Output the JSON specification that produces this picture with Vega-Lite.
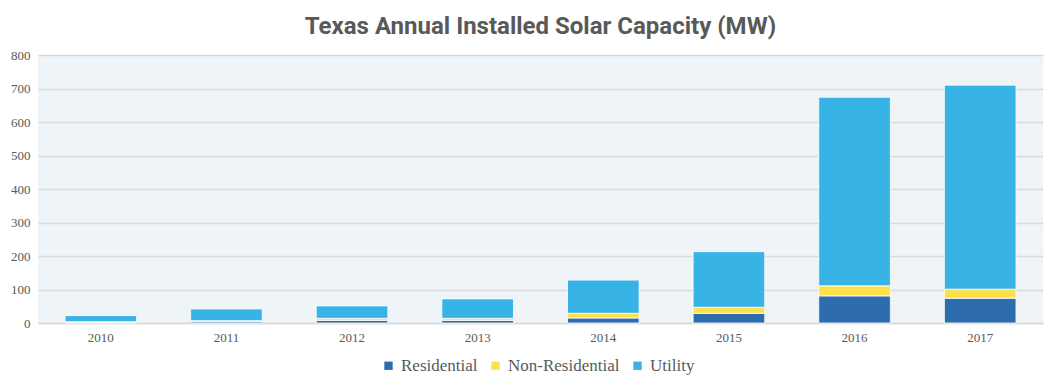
{
  "$schema": "https://vega.github.io/schema/vega-lite/v6.json",
  "autosize": {"type": "none"},
  "width": 1005,
  "height": 268,
  "padding": {"left": 38, "right": 16, "top": 55, "bottom": 64},
  "background": "white",
  "title": {
    "text": "Texas Annual Installed Solar Capacity (MW)",
    "font": "Roboto",
    "fontSize": 24,
    "fontWeight": "bold",
    "color": "#595959",
    "anchor": "middle",
    "offset": 10
  },
  "data": {
    "values": [
      {"year": "2010", "type": "Residential", "order": 1, "mw": 2},
      {"year": "2010", "type": "Non-Residential", "order": 2, "mw": 2},
      {"year": "2010", "type": "Utility", "order": 3, "mw": 18},
      {"year": "2011", "type": "Residential", "order": 1, "mw": 4},
      {"year": "2011", "type": "Non-Residential", "order": 2, "mw": 3},
      {"year": "2011", "type": "Utility", "order": 3, "mw": 35},
      {"year": "2012", "type": "Residential", "order": 1, "mw": 8},
      {"year": "2012", "type": "Non-Residential", "order": 2, "mw": 6},
      {"year": "2012", "type": "Utility", "order": 3, "mw": 37},
      {"year": "2013", "type": "Residential", "order": 1, "mw": 8},
      {"year": "2013", "type": "Non-Residential", "order": 2, "mw": 6},
      {"year": "2013", "type": "Utility", "order": 3, "mw": 58},
      {"year": "2014", "type": "Residential", "order": 1, "mw": 15},
      {"year": "2014", "type": "Non-Residential", "order": 2, "mw": 14},
      {"year": "2014", "type": "Utility", "order": 3, "mw": 99},
      {"year": "2015", "type": "Residential", "order": 1, "mw": 29},
      {"year": "2015", "type": "Non-Residential", "order": 2, "mw": 18},
      {"year": "2015", "type": "Utility", "order": 3, "mw": 166},
      {"year": "2016", "type": "Residential", "order": 1, "mw": 81},
      {"year": "2016", "type": "Non-Residential", "order": 2, "mw": 30},
      {"year": "2016", "type": "Utility", "order": 3, "mw": 563},
      {"year": "2017", "type": "Residential", "order": 1, "mw": 74},
      {"year": "2017", "type": "Non-Residential", "order": 2, "mw": 27},
      {"year": "2017", "type": "Utility", "order": 3, "mw": 609}
    ]
  },
  "mark": {"type": "bar", "stroke": "white", "strokeWidth": 0.8},
  "encoding": {
    "x": {
      "field": "year",
      "type": "nominal",
      "title": null,
      "scale": {"paddingInner": 0.43, "paddingOuter": 0.215},
      "axis": {
        "labelAngle": 0,
        "labelFont": "Liberation Serif",
        "labelFontSize": 13,
        "labelColor": "#595959",
        "ticks": false,
        "domainColor": "#d9d9d9",
        "domainWidth": 1.5,
        "labelPadding": 8,
        "grid": false
      }
    },
    "y": {
      "field": "mw",
      "type": "quantitative",
      "stack": "zero",
      "title": null,
      "scale": {"domain": [0, 800]},
      "axis": {
        "values": [0, 100, 200, 300, 400, 500, 600, 700, 800],
        "labelFont": "Liberation Serif",
        "labelFontSize": 13,
        "labelColor": "#595959",
        "ticks": false,
        "domain": false,
        "gridColor": "#d9d9d9",
        "gridWidth": 1.5,
        "labelPadding": 8
      }
    },
    "color": {
      "field": "type",
      "type": "nominal",
      "scale": {
        "domain": ["Residential", "Non-Residential", "Utility"],
        "range": ["#2e6dad", "#ffe04b", "#38b3e5"]
      },
      "legend": {
        "title": null,
        "orient": "none",
        "legendX": 342,
        "legendY": 302,
        "direction": "horizontal",
        "symbolType": "square",
        "symbolSize": 70,
        "symbolStrokeWidth": 0,
        "labelFont": "Liberation Serif",
        "labelFontSize": 17,
        "labelColor": "#595959",
        "columnPadding": 9
      }
    },
    "order": {"field": "order", "type": "quantitative"}
  },
  "config": {
    "view": {"fill": "#eef4f7", "stroke": null}
  }
}
